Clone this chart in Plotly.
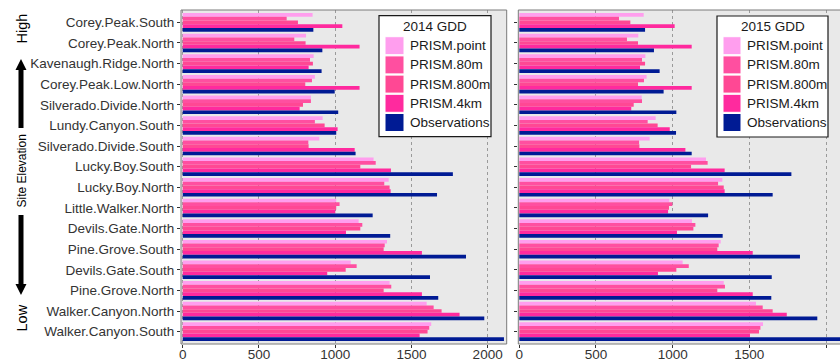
import plotly.graph_objects as go

sites = ["Corey.Peak.South", "Corey.Peak.North", "Kavenaugh.Ridge.North", "Corey.Peak.Low.North",
         "Silverado.Divide.North", "Lundy.Canyon.South", "Silverado.Divide.South", "Lucky.Boy.South",
         "Lucky.Boy.North", "Little.Walker.North", "Devils.Gate.North", "Pine.Grove.South",
         "Devils.Gate.South", "Pine.Grove.North", "Walker.Canyon.North", "Walker.Canyon.South"]

series_names = ["PRISM.point", "PRISM.80m", "PRISM.800m", "PRISM.4km", "Observations"]
series_colors = ["#FF9EEE", "#FF4FA0", "#FF4894", "#FF2A9E", "#001B94"]

gdd14_point = [852, 809, 859, 867, 841, 918, 896, 1252, 1351, 1007, 1154, 1340, 1102, 1357, 1600, 1630]
gdd14_80m = [682, 732, 835, 848, 841, 867, 824, 1266, 1322, 1029, 1178, 1325, 1141, 1368, 1646, 1617]
gdd14_800m = [756, 806, 854, 804, 789, 931, 826, 1165, 1357, 1007, 1165, 1318, 1069, 1318, 1698, 1606]
gdd14_4km = [1047, 1160, 826, 1160, 767, 1016, 1128, 1366, 1364, 1001, 1071, 1569, 948, 1569, 1816, 1554]
gdd14_obs = [857, 916, 911, 997, 1020, 1007, 1134, 1772, 1668, 1246, 1361, 1858, 1622, 1676, 1978, 2107]

gdd15_point = [811, 776, 822, 830, 798, 889, 850, 1217, 1324, 978, 1126, 1313, 1065, 1333, 1543, 1589]
gdd15_80m = [650, 702, 800, 813, 800, 837, 781, 1228, 1296, 998, 1148, 1300, 1105, 1341, 1587, 1572]
gdd15_800m = [724, 774, 820, 774, 746, 902, 783, 1120, 1333, 976, 1135, 1291, 1024, 1291, 1652, 1563]
gdd15_4km = [1013, 1124, 787, 1124, 730, 981, 1083, 1339, 1339, 970, 1028, 1522, 904, 1522, 1744, 1504]
gdd15_obs = [820, 878, 915, 941, 1024, 1022, 1124, 1774, 1652, 1231, 1326, 1830, 1646, 1643, 1943, 2115]

x_ticks = [0, 500, 1000, 1500, 2000]
panel_titles = ["2014 GDD", "2015 GDD"]

data14 = [gdd14_point, gdd14_80m, gdd14_800m, gdd14_4km, gdd14_obs]
data15 = [gdd15_point, gdd15_80m, gdd15_800m, gdd15_4km, gdd15_obs]

W, H = 840, 360
ML, MR, MT, MB = 181, 0, 10, 16
PW = W - ML - MR
PH = H - MT - MB


def xp(px):
    return (px - ML) / PW


def yp(py):
    return (H - MB - py) / PH


FONT = "Liberation Sans, Arial, sans-serif"
TXT = "#333333"

fig = go.Figure()
for data, xa, ya in [(data14, "x", "y"), (data15, "x2", "y2")]:
    for name, col, vals in zip(series_names, series_colors, data):
        fig.add_trace(go.Bar(
            x=vals, y=sites, orientation="h", name=name,
            marker=dict(color=col, line=dict(width=0)),
            xaxis=xa, yaxis=ya, showlegend=False, hoverinfo="x+y+name"))

d1 = [0, xp(506.7)]
d2 = [xp(518.3), 1]

axis_common = dict(
    tickvals=x_ticks, ticks="outside", ticklen=3, tickcolor="#333333", tickwidth=1,
    showgrid=True, gridcolor="#9a9a9a", griddash="dot", gridwidth=1,
    zeroline=False, showline=False, automargin=False, ticklabelstandoff=-5,
    tickfont=dict(family=FONT, size=13.5, color=TXT),
)
yaxis_common = dict(
    type="category", categoryorder="array", categoryarray=sites,
    range=[15.6, -0.6], ticks="outside", ticklen=3, tickcolor="#333333",
    showgrid=False, zeroline=False, showline=False, automargin=False,
    tickfont=dict(family=FONT, size=13.5, color=TXT),
)

fig.update_layout(
    width=W, height=H,
    margin=dict(l=ML, r=MR, t=MT, b=MB, autoexpand=False),
    paper_bgcolor="white", plot_bgcolor="#E9E9E9",
    barmode="group", bargap=0.1, bargroupgap=0,
    xaxis=dict(domain=d1, range=[-11, 2125], anchor="y", **axis_common),
    xaxis2=dict(domain=d2, range=[-6.5, 2091], anchor="y2", **axis_common),
    yaxis=dict(anchor="x", showticklabels=True, **yaxis_common),
    yaxis2=dict(anchor="x2", showticklabels=False, **yaxis_common),
    font=dict(family=FONT, color=TXT),
)

shapes = []
annotations = []

# panel borders
shapes.append(dict(type="rect", xref="paper", yref="paper", x0=d1[0], x1=d1[1], y0=0, y1=1,
                   line=dict(color="#7a7a7a", width=1), fillcolor="rgba(0,0,0,0)", layer="above"))
shapes.append(dict(type="rect", xref="paper", yref="paper", x0=d2[0], x1=1.02, y0=0, y1=1,
                   line=dict(color="#7a7a7a", width=1), fillcolor="rgba(0,0,0,0)", layer="above"))

# legends (drawn manually to match large key squares)
legend_specs = [
    dict(box=(379, 15.7, 491, 136.7), key_x=(385, 404), label_x=408, title=panel_titles[0]),
    dict(box=(717, 16, 828, 137), key_x=(723, 741), label_x=745, title=panel_titles[1]),
]
for spec in legend_specs:
    bx0, by0, bx1, by1 = spec["box"]
    shapes.append(dict(type="rect", xref="paper", yref="paper",
                       x0=xp(bx0), x1=xp(bx1), y0=yp(by1), y1=yp(by0),
                       line=dict(color="#1a1a1a", width=1.2), fillcolor="white", layer="above"))
    annotations.append(dict(xref="paper", yref="paper", x=xp((bx0 + bx1) / 2), y=yp(26),
                            text=spec["title"], showarrow=False, xanchor="center", yanchor="middle",
                            font=dict(family=FONT, size=13.5, color="#1a1a1a")))
    for i, (name, col) in enumerate(zip(series_names, series_colors)):
        top = 36.7 + i * 19.2
        shapes.append(dict(type="rect", xref="paper", yref="paper",
                           x0=xp(spec["key_x"][0]), x1=xp(spec["key_x"][1]),
                           y0=yp(top + 18), y1=yp(top),
                           line=dict(color="white", width=1), fillcolor=col, layer="above"))
        annotations.append(dict(xref="paper", yref="paper", x=xp(spec["label_x"]), y=yp(top + 9),
                                text=name, showarrow=False, xanchor="left", yanchor="middle",
                                font=dict(family=FONT, size=13.5, color="#1a1a1a")))

# elevation arrows


def path_from(points):
    s = "M " + " L ".join(f"{xp(px):.5f},{yp(py):.5f}" for px, py in points) + " Z"
    return s


up_arrow = [(21, 59), (26.5, 70), (23.5, 70), (23.5, 128), (18.5, 128), (18.5, 70), (15.5, 70)]
down_arrow = [(21, 295), (26.5, 284), (23.5, 284), (23.5, 215), (18.5, 215), (18.5, 284), (15.5, 284)]
for pts in (up_arrow, down_arrow):
    shapes.append(dict(type="path", xref="paper", yref="paper", path=path_from(pts),
                       fillcolor="black", line=dict(color="black", width=0), layer="above"))

for text, py, size in [("High", 29, 14.5), ("Site Elevation", 171, 12), ("Low", 318, 14.5)]:
    annotations.append(dict(xref="paper", yref="paper", x=xp(21.5), y=yp(py), text=text,
                            textangle=-90, showarrow=False, xanchor="center", yanchor="middle",
                            font=dict(family=FONT, size=size, color="black")))

fig.update_layout(shapes=shapes, annotations=annotations)

fig.write_html("out.html", config={"displayModeBar": False},
               post_script="document.body.style.margin='0px';document.body.style.overflow='hidden';")
